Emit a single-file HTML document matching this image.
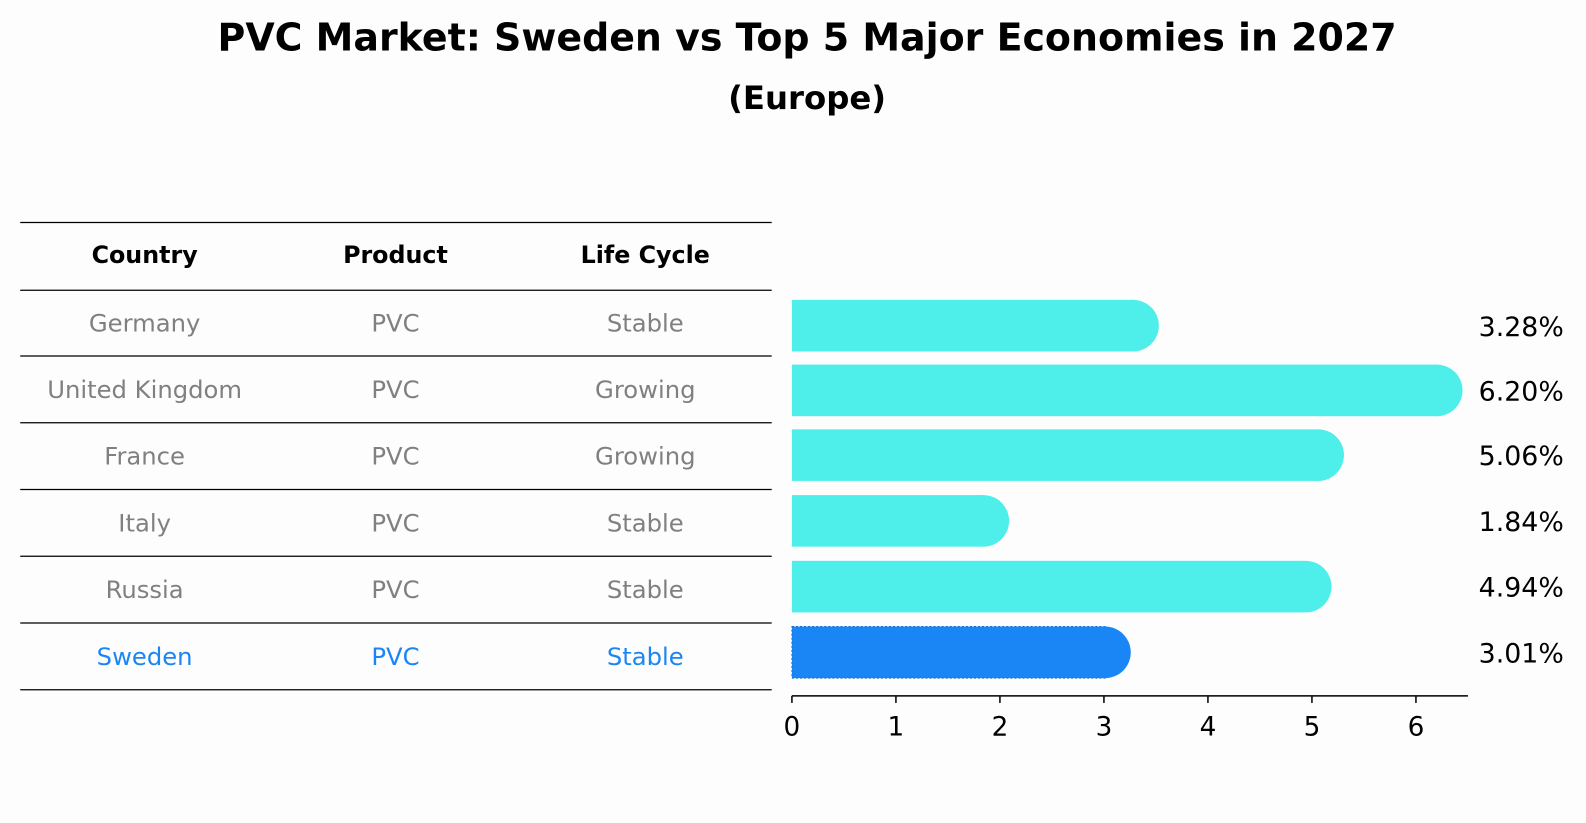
<!DOCTYPE html>
<html><head><meta charset="utf-8"><style>
body{margin:0;background:#fdfdfd;font-family:"Liberation Sans","DejaVu Sans",sans-serif}
svg{display:block}
</style></head><body>
<svg id="c" width="1586" height="823" xmlns="http://www.w3.org/2000/svg">
<rect width="1586" height="823" fill="#fdfdfd"/>
<g transform="scale(1.0114)">
<text x="798" y="50" text-anchor="middle" font-family="DejaVu Sans, sans-serif" font-size="37.5" font-weight="bold">PVC Market: Sweden vs Top 5 Major Economies in 2027</text>
<text x="798" y="108" text-anchor="middle" font-family="DejaVu Sans, sans-serif" font-size="32" font-weight="bold">(Europe)</text>
<g id="table"></g>
<g id="bars"></g>
</g>
</svg>
<script>
const countries=["Germany","United Kingdom","France","Italy","Russia","Sweden"];
const products=["PVC","PVC","PVC","PVC","PVC","PVC"];
const lifecycle=["Stable","Growing","Growing","Stable","Stable","Stable"];
const values=[3.28,6.20,5.06,1.84,4.94,3.01];
const ticks=[0,1,2,3,4,5,6];
const NS="http://www.w3.org/2000/svg";
function mk(t,a,p){const e=document.createElementNS(NS,t);for(const k in a)e.setAttribute(k,a[k]);p.appendChild(e);return e;}
const tbl=document.getElementById('table'),bg=document.getElementById('bars');
const F='DejaVu Sans, sans-serif';
const lineY=[220,287,352,418,484,550,616,682];
lineY.forEach((y,i)=>{const l=mk('line',{x1:20,x2:763,y1:y,y2:y,stroke:'#000','stroke-width':1.2},tbl);

});
const colX=[143,391,638];
["Country","Product","Life Cycle"].forEach((h,j)=>{const t=mk('text',{x:colX[j],y:260,'text-anchor':'middle','font-family':F,'font-size':23.5,'font-weight':'bold'},tbl);t.textContent=h;

});
countries.forEach((c,i)=>{const y=(lineY[i+1]+lineY[i+2])/2+8.5;const col=c==="Sweden"?'#1a86f5':'#808080';
[c,products[i],lifecycle[i]].forEach((v,j)=>{const t=mk('text',{x:colX[j],y:y,'text-anchor':'middle','font-family':F,'font-size':24,fill:col},tbl);t.textContent=v;

});});
const x0=783,sx=102.83;const X=v=>x0+v*sx;
const cy=[322,386,450,515,580,645],h=51,r=25.5;
values.forEach((v,i)=>{const sw=countries[i]==="Sweden";const col=sw?'#1a86f5':'#4eeeea';
const g=mk('g',{},bg);


mk('rect',{x:X(0),y:cy[i]-h/2,width:X(v)-X(0),height:h,fill:col,stroke:sw?'#0f6fd0':'none','stroke-dasharray':'2 2','stroke-width':1},g);
mk('circle',{cx:X(v),cy:cy[i],r:r,fill:col},g);
const t=mk('text',{x:1462,y:cy[i]+10,'font-family':F,'font-size':26.5},bg);t.textContent=v.toFixed(2)+'%';

});
const ax=mk('line',{x1:X(0),x2:X(6.5),y1:688,y2:688,stroke:'#000','stroke-width':1.5},bg);


ticks.forEach(v=>{mk('line',{x1:X(v),x2:X(v),y1:688,y2:695,stroke:'#000','stroke-width':1.5},bg);
const t=mk('text',{x:X(v),y:727,'text-anchor':'middle','font-family':F,'font-size':26},bg);t.textContent=v;

});
</script>
</body></html>
